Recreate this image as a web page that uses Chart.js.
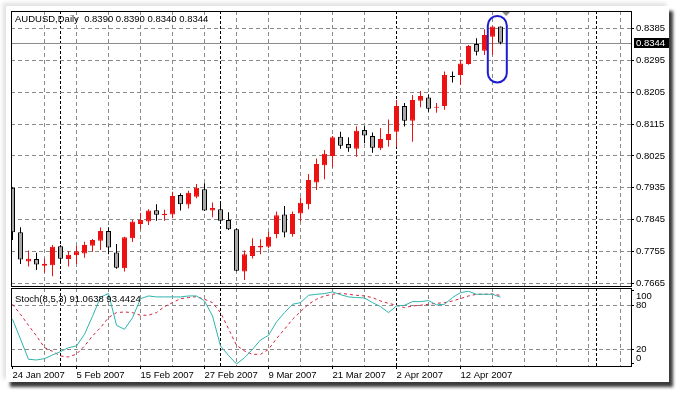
<!DOCTYPE html>
<html>
<head>
<meta charset="utf-8">
<script src="https://cdn.jsdelivr.net/npm/chart.js@4.4.1/dist/chart.umd.min.js"></script>
<style>
  html, body { margin: 0; padding: 0; background: #fff; }
  body { width: 686px; height: 399px; position: relative; overflow: hidden; }
  #frame {
    position: absolute; left: 6px; top: 6px; width: 663px; height: 376px; background: #fff;
    box-shadow: 4px 5px 3px 0 rgba(25,25,25,0.85), -3px -3px 4px rgba(0,0,0,0.12);
  }
  canvas { position: absolute; left: 0; }
  #mainChart { top: 0; }
  #stochChart { top: 287px; }
</style>
</head>
<body>
<div id="frame"></div>
<canvas id="mainChart" width="686" height="287"></canvas>
<canvas id="stochChart" width="686" height="100"></canvas>
<script>
const symbolName = 'AUDUSD,Daily';

// daily candles, bar 0 = 24 Jan 2007
const opens = [
    0.7935, 0.7810, 0.7727, 0.7734, 0.7715, 0.7717, 0.7770, 0.7734, 0.7745, 0.7750,
    0.7772, 0.7786, 0.7813, 0.7753, 0.7708, 0.7793, 0.7833, 0.7840, 0.7872, 0.7858,
    0.7860, 0.7915, 0.7888, 0.7910, 0.7931, 0.7871, 0.7875, 0.7844, 0.7818, 0.7699,
    0.7743, 0.7767, 0.7769, 0.7805, 0.7860, 0.7805, 0.7863, 0.7889, 0.7950, 0.7999,
    0.8025, 0.8079, 0.8059, 0.8045, 0.8098, 0.8081, 0.8047, 0.8070, 0.8093, 0.8166,
    0.8124, 0.8181, 0.8190, 0.8161, 0.8166, 0.8250, 0.8253, 0.8284, 0.8341, 0.8322,
    0.8361, 0.8390
];
const highs = [
    0.7937, 0.7824, 0.7758, 0.7752, 0.7736, 0.7774, 0.7774, 0.7757, 0.7771, 0.7783,
    0.7791, 0.7823, 0.7824, 0.7777, 0.7797, 0.7844, 0.7865, 0.7875, 0.7889, 0.7873,
    0.7924, 0.7920, 0.7927, 0.7946, 0.7948, 0.7894, 0.7891, 0.7866, 0.7821, 0.7758,
    0.7793, 0.7790, 0.7811, 0.7868, 0.7884, 0.7868, 0.7908, 0.7974, 0.8018, 0.8042,
    0.8081, 0.8093, 0.8078, 0.8109, 0.8109, 0.8091, 0.8103, 0.8128, 0.8183, 0.8174,
    0.8197, 0.8208, 0.8199, 0.8174, 0.8263, 0.8263, 0.8296, 0.8338, 0.8357, 0.8382,
    0.8390, 0.8390
];
const lows = [
    0.7788, 0.7720, 0.7713, 0.7703, 0.7696, 0.7686, 0.7727, 0.7713, 0.7720, 0.7738,
    0.7755, 0.7760, 0.7748, 0.7707, 0.7699, 0.7782, 0.7818, 0.7830, 0.7842, 0.7842,
    0.7849, 0.7871, 0.7877, 0.7906, 0.7870, 0.7852, 0.7841, 0.7816, 0.7700, 0.7675,
    0.7736, 0.7748, 0.7765, 0.7793, 0.7796, 0.7797, 0.7840, 0.7875, 0.7929, 0.7959,
    0.7993, 0.8045, 0.8037, 0.8023, 0.8061, 0.8034, 0.8042, 0.8051, 0.8051, 0.8108,
    0.8065, 0.8162, 0.8150, 0.8147, 0.8155, 0.8232, 0.8225, 0.8282, 0.8308, 0.8310,
    0.8310, 0.8340
];
const closes = [
    0.7810, 0.7733, 0.7735, 0.7719, 0.7721, 0.7769, 0.7735, 0.7746, 0.7756, 0.7774,
    0.7788, 0.7813, 0.7767, 0.7710, 0.7796, 0.7840, 0.7844, 0.7871, 0.7859, 0.7862,
    0.7912, 0.7889, 0.7921, 0.7935, 0.7871, 0.7878, 0.7842, 0.7818, 0.7701, 0.7748,
    0.7771, 0.7772, 0.7797, 0.7858, 0.7809, 0.7861, 0.7893, 0.7957, 0.8002, 0.8031,
    0.8078, 0.8054, 0.8047, 0.8096, 0.8083, 0.8048, 0.8073, 0.8087, 0.8166, 0.8124,
    0.8183, 0.8194, 0.8158, 0.8164, 0.8253, 0.8248, 0.8286, 0.8335, 0.8319, 0.8366,
    0.8390, 0.8344
];

// Stoch(8,5,3): main (%K) and signal (%D)
const stochParams = [8, 5, 3];
const stochMain = [
    61.0, 34.0, 6.4, 5.5, 7.3, 12.3, 16.8, 22.3, 24.5, 40.5,
    65.0, 91.0, 96.0, 52.7, 47.3, 63.0, 89.0, 92.7, 91.4, 91.4,
    91.4, 91.4, 92.7, 92.7, 85.9, 65.4, 24.5, 11.8, 0.0, 8.6,
    20.0, 32.7, 39.1, 57.3, 70.0, 81.4, 83.6, 93.6, 95.0, 95.9,
    98.2, 94.5, 91.4, 90.5, 90.0, 83.6, 78.2, 70.0, 79.1, 80.0,
    85.0, 85.0, 86.4, 80.5, 81.4, 90.5, 97.3, 99.1, 95.0, 95.0,
    95.0, 91.0638
];
const stochSignal = [
    81.4, 67.7, 52.7, 38.2, 22.3, 17.3, 10.9, 9.5, 13.5, 24.5,
    38.2, 49.5, 63.2, 70.0, 70.9, 70.0, 66.4, 66.4, 70.0, 78.2,
    83.6, 89.0, 90.5, 91.8, 88.2, 83.6, 70.0, 48.0, 25.5, 17.7,
    13.2, 13.2, 19.9, 34.5, 47.3, 60.9, 71.4, 81.4, 88.2, 92.7,
    95.0, 96.4, 95.0, 93.6, 92.7, 90.5, 85.9, 82.7, 80.0, 76.8,
    79.1, 80.0, 81.4, 82.7, 83.6, 85.9, 89.0, 92.7, 95.0, 95.0,
    95.5, 93.4424
];

const priceTicks = [0.7665, 0.7755, 0.7845, 0.7935, 0.8025, 0.8115, 0.8205, 0.8295, 0.8385];
const stochTicks = [0, 20, 80, 100];
const dateLabels = ['24 Jan 2007', '5 Feb 2007', '15 Feb 2007', '27 Feb 2007',
                    '9 Mar 2007', '21 Mar 2007', '2 Apr 2007', '12 Apr 2007'];
const dateLabelBars = [0, 8, 16, 24, 32, 40, 48, 56];
const gridBars = [4, 8, 12, 16, 20, 24, 28, 32, 36, 40, 44, 48, 52, 56, 60, 64, 68, 72, 76];
const monthStartBars = [6, 26, 48, 73];

const FONT = "'Liberation Sans', Arial, sans-serif";
const FONT_SIZE = 9.5;
const GRID = '#8a8a8a';
const UP = '#ee1111';
const DOWN = '#a8a8a8';
const X_MIN = -0.1875, X_MAX = 77.3125;

Chart.defaults.font.family = FONT;
Chart.defaults.font.size = FONT_SIZE;
Chart.defaults.color = '#000';
Chart.defaults.animation = false;
Chart.defaults.events = [];

const last = closes.length - 1;
const isUp = closes.map((c, i) => c >= opens[i]);
const xTickBars = [...new Set([...dateLabelBars, ...gridBars, ...monthStartBars])].sort((a, b) => a - b);

function xAxis(showLabels) {
    return {
        type: 'linear',
        min: X_MIN,
        max: X_MAX,
        offset: false,
        afterBuildTicks: s => { s.ticks = xTickBars.map(v => ({ value: v })); },
        afterFit: s => {
            s.height = showLabels ? 21 : 0;
            s.paddingLeft = 0; s.paddingRight = 0;
        },
        ticks: {
            display: showLabels,
            autoSkip: false,
            maxRotation: 0,
            minRotation: 0,
            align: 'start',
            padding: 1,
            callback: v => {
                const k = dateLabelBars.indexOf(v);
                return k >= 0 ? dateLabels[k] : '';
            }
        },
        grid: {
            offset: false,
            color: c => {
                if (!c.tick) return GRID;
                if (monthStartBars.includes(c.tick.value)) return '#000';
                return gridBars.includes(c.tick.value) ? GRID : 'rgba(0,0,0,0)';
            },
            drawTicks: showLabels,
            tickLength: 3,
            tickColor: c => c.tick && dateLabelBars.includes(c.tick.value) ? '#000' : 'rgba(0,0,0,0)',
            tickBorderDash: []
        },
        border: {
            display: false,
            dash: c => c.tick && monthStartBars.includes(c.tick.value) ? [3, 2] : [4, 3]
        }
    };
}

// black frame around each panel
const framePlugin = {
    id: 'frame',
    afterDraw(chart) {
        const a = chart.chartArea, ctx = chart.ctx;
        ctx.save();
        ctx.strokeStyle = '#000';
        ctx.lineWidth = 1;
        ctx.strokeRect(a.left + 0.5, a.top + 0.5, a.right - a.left, a.bottom - a.top);
        ctx.restore();
    }
};

const mainDecor = {
    id: 'mainDecor',
    beforeDatasetsDraw(chart) {
        const a = chart.chartArea, ctx = chart.ctx;
        const y = Math.round(chart.scales.y.getPixelForValue(closes[last])) + 0.5;
        ctx.save();
        ctx.strokeStyle = '#8c8c8c';
        ctx.lineWidth = 1;
        ctx.beginPath();
        ctx.moveTo(a.left, y);
        ctx.lineTo(a.right, y);
        ctx.stroke();
        ctx.restore();
    },
    afterDatasetsDraw(chart) {
        const ctx = chart.ctx, xs = chart.scales.x, ys = chart.scales.y;
        ctx.save();
        // title
        ctx.font = FONT_SIZE + 'px ' + FONT;
        ctx.fillStyle = '#000';
        ctx.textBaseline = 'middle';
        ctx.fillText(symbolName + '  ' + [opens[last], highs[last], lows[last], closes[last]]
            .map(v => v.toFixed(4)).join(' '), 15, 19.5);
        // marker on the last bars
        const cx = xs.getPixelForValue(last - 0.4);
        const top = ys.getPixelForValue(0.8420), bot = ys.getPixelForValue(0.8232);
        ctx.strokeStyle = '#1c1cd0';
        ctx.lineWidth = 2;
        ctx.beginPath();
        ctx.roundRect(cx - 9.5, top, 19, bot - top, 9.5);
        ctx.stroke();
        // shift triangle
        const tx = xs.getPixelForValue(last + 0.7);
        ctx.fillStyle = '#8a8a8a';
        ctx.beginPath();
        ctx.moveTo(tx - 4.5, 11.5);
        ctx.lineTo(tx + 4.5, 11.5);
        ctx.lineTo(tx, 16);
        ctx.closePath();
        ctx.fill();
        ctx.restore();
    },
    afterDraw(chart) {
        const ctx = chart.ctx, a = chart.chartArea;
        const y = Math.round(chart.scales.y.getPixelForValue(closes[last]));
        ctx.save();
        ctx.fillStyle = '#000';
        ctx.fillRect(a.right + 3, y - 5, 35, 10);
        ctx.fillStyle = '#fff';
        ctx.font = FONT_SIZE + 'px ' + FONT;
        ctx.textBaseline = 'middle';
        ctx.fillText(closes[last].toFixed(4), a.right + 5, y + 0.5);
        ctx.restore();
    }
};

new Chart(document.getElementById('mainChart'), {
    type: 'bar',
    data: {
        datasets: [{
            label: 'body',
            data: closes.map((c, i) => ({ x: i, y: [opens[i], c] })),
            backgroundColor: isUp.map(u => u ? UP : DOWN),
            borderColor: isUp.map(u => u ? UP : '#000'),
            borderWidth: 1,
            borderSkipped: false,
            barThickness: 5,
            inflateAmount: 0,
            minBarLength: 1,
            grouped: false,
            order: 0
        }, {
            label: 'wick',
            data: closes.map((c, i) => ({ x: i, y: [lows[i], highs[i]] })),
            backgroundColor: isUp.map(u => u ? UP : '#000'),
            borderWidth: 0,
            barThickness: 1,
            inflateAmount: 0,
            grouped: false,
            order: 1
        }]
    },
    options: {
        responsive: false,
        layout: { padding: { left: 11, top: 11, right: 0, bottom: 1 }, autoPadding: false },
        plugins: { legend: { display: false }, tooltip: { enabled: false } },
        scales: {
            x: xAxis(false),
            y: {
                position: 'right',
                min: 0.76582,
                max: 0.84338,
                afterBuildTicks: s => { s.ticks = priceTicks.map(v => ({ value: v })); },
                afterFit: s => { s.width = 55; s.paddingTop = 0; s.paddingBottom = 0; },
                ticks: { padding: 2, autoSkip: false, callback: v => v.toFixed(4) },
                grid: { color: GRID, tickLength: 3, tickColor: '#000', tickBorderDash: [] },
                border: { display: false, dash: [4, 3] }
            }
        }
    },
    plugins: [mainDecor, framePlugin]
});

const stochDecor = {
    id: 'stochDecor',
    afterDatasetsDraw(chart) {
        const ctx = chart.ctx;
        ctx.save();
        ctx.font = FONT_SIZE + 'px ' + FONT;
        ctx.fillStyle = '#000';
        ctx.textBaseline = 'middle';
        ctx.fillText('Stoch(' + stochParams.join(',') + ') ' + stochMain[last].toFixed(4) + ' ' +
            stochSignal[last].toFixed(4), 15, 12);
        ctx.restore();
    }
};

new Chart(document.getElementById('stochChart'), {
    type: 'line',
    data: {
        datasets: [{
            label: 'main',
            data: stochMain.map((v, i) => ({ x: i, y: v })),
            borderColor: '#2db5ad',
            borderWidth: 1,
            pointRadius: 0,
            tension: 0,
            order: 0
        }, {
            label: 'signal',
            data: stochSignal.map((v, i) => ({ x: i, y: v })),
            borderColor: '#d2203c',
            borderWidth: 1,
            borderDash: [3, 3],
            pointRadius: 0,
            tension: 0,
            order: 1
        }]
    },
    options: {
        responsive: false,
        layout: { padding: { left: 11, top: 1, right: 0, bottom: 0 }, autoPadding: false },
        plugins: { legend: { display: false }, tooltip: { enabled: false } },
        scales: {
            x: xAxis(true),
            y: {
                position: 'right',
                min: -2.73,
                max: 103.55,
                afterBuildTicks: s => { s.ticks = stochTicks.map(v => ({ value: v })); },
                afterFit: s => { s.width = 55; s.paddingTop = 0; s.paddingBottom = 0; },
                ticks: {
                    padding: 2,
                    autoSkip: false,
                    // top and bottom labels sit inside the panel, as in the terminal
                    callback: v => v === 100 ? ['', '100'] : v === 0 ? ['0', ''] : String(v)
                },
                grid: {
                    color: c => c.tick && (c.tick.value === 20 || c.tick.value === 80) ? GRID : 'rgba(0,0,0,0)',
                    tickLength: 3,
                    tickColor: '#000',
                    tickBorderDash: []
                },
                border: { display: false, dash: [4, 3] }
            }
        }
    },
    plugins: [stochDecor, framePlugin]
});
</script>
</body>
</html>
